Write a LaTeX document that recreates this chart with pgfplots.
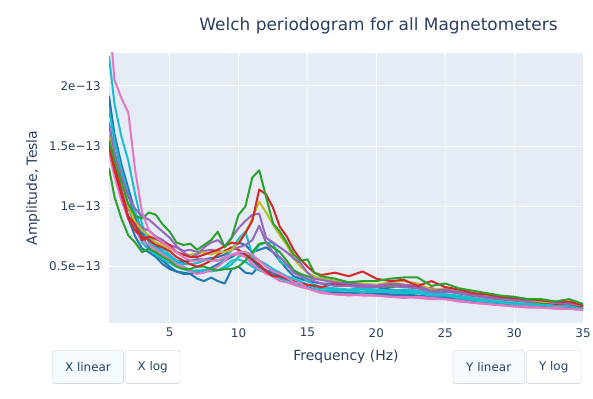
\documentclass[border=0pt]{standalone}
\usepackage{fontspec}
\setmainfont{DejaVu Sans}
\usepackage{pgfplots}
\pgfplotsset{compat=1.18}
\usepackage{pgfplotstable}
\definecolor{txt}{HTML}{2A3F5F}
\definecolor{bg}{HTML}{E5ECF6}
\definecolor{btnb}{HTML}{BEC8D9}
\definecolor{btnf}{HTML}{F4FAFF}
\definecolor{cB}{HTML}{1F77B4}
\definecolor{cG}{HTML}{2CA02C}
\definecolor{cR}{HTML}{D62728}
\definecolor{cP}{HTML}{9467BD}
\definecolor{cK}{HTML}{E377C2}
\definecolor{cY}{HTML}{BCBD22}
\definecolor{cC}{HTML}{17BECF}

\pgfplotstableread{
f s1 s2 s3 s4 s5 s6 s7 s8 s9 s10 s11 s12 s13 s14 s15
0.6 1.55 1.55 1.6 1.68 1.6 1.8 2.25 1.5 1.9 2.6 1.45 1.32 1.5 1.7 1.92
1.0 1.38 1.35 1.4 1.45 1.35 1.55 1.85 1.3 1.6 2.05 1.25 1.08 1.3 1.45 1.55
1.5 1.2 1.12 1.2 1.25 1.15 1.3 1.58 1.1 1.35 1.9 1.05 0.9 1.1 1.2 1.3
2.0 1.02 0.92 1.0 1.08 0.98 1.1 1.38 0.9 1.15 1.78 0.9 0.76 0.9 1.0 1.1
2.5 0.92 0.85 0.87 0.98 0.88 0.95 1.1 0.75 0.95 1.3 0.8 0.7 0.8 0.82 0.9
3.0 0.9 0.72 0.8 0.92 0.82 0.8 0.85 0.65 0.78 0.95 0.72 0.62 0.75 0.7 0.75
3.5 0.95 0.75 0.76 0.89 0.8 0.74 0.7 0.62 0.72 0.8 0.68 0.65 0.72 0.64 0.66
4.0 0.93 0.73 0.7 0.84 0.75 0.7 0.66 0.58 0.68 0.74 0.64 0.62 0.68 0.6 0.6
4.5 0.85 0.7 0.68 0.79 0.72 0.65 0.62 0.52 0.62 0.7 0.6 0.58 0.66 0.56 0.55
5.0 0.79 0.68 0.65 0.74 0.68 0.6 0.58 0.48 0.58 0.66 0.56 0.55 0.63 0.53 0.5
5.5 0.7 0.62 0.62 0.67 0.66 0.55 0.54 0.46 0.55 0.62 0.52 0.5 0.58 0.5 0.46
6.0 0.68 0.6 0.6 0.62 0.63 0.52 0.5 0.45 0.54 0.58 0.5 0.48 0.55 0.48 0.44
6.5 0.69 0.58 0.6 0.58 0.64 0.52 0.47 0.44 0.55 0.55 0.46 0.48 0.52 0.46 0.44
7.0 0.64 0.58 0.61 0.6 0.62 0.53 0.46 0.4 0.56 0.55 0.44 0.5 0.5 0.47 0.45
7.5 0.68 0.6 0.62 0.66 0.63 0.55 0.47 0.38 0.56 0.56 0.45 0.5 0.52 0.47 0.47
8.0 0.72 0.62 0.6 0.70 0.64 0.56 0.48 0.41 0.57 0.55 0.47 0.48 0.55 0.46 0.49
8.5 0.79 0.64 0.62 0.72 0.63 0.55 0.47 0.38 0.58 0.55 0.5 0.47 0.6 0.47 0.52
9.0 0.66 0.67 0.62 0.67 0.62 0.56 0.48 0.36 0.6 0.58 0.55 0.48 0.63 0.5 0.55
9.5 0.74 0.7 0.64 0.74 0.64 0.64 0.52 0.48 0.64 0.6 0.6 0.48 0.66 0.55 0.58
10.0 0.93 0.69 0.7 0.82 0.66 0.73 0.58 0.5 0.7 0.62 0.6 0.5 0.64 0.56 0.62
10.5 1.0 0.78 0.78 0.88 0.68 0.79 0.62 0.45 0.68 0.62 0.58 0.55 0.6 0.54 0.6
11.0 1.24 0.88 0.9 0.93 0.72 0.6 0.58 0.44 0.62 0.6 0.52 0.62 0.56 0.5 0.55
11.5 1.30 1.14 1.04 0.94 0.84 0.68 0.55 0.51 0.64 0.55 0.48 0.69 0.52 0.47 0.5
12.0 1.08 1.10 0.95 0.74 0.70 0.70 0.52 0.47 0.66 0.5 0.44 0.70 0.46 0.45 0.46
12.5 0.86 0.99 0.85 0.70 0.62 0.70 0.48 0.45 0.62 0.46 0.42 0.66 0.42 0.42 0.43
13.0 0.79 0.83 0.76 0.66 0.58 0.54 0.45 0.42 0.55 0.44 0.38 0.62 0.42 0.40 0.41
13.5 0.7 0.75 0.68 0.62 0.52 0.51 0.42 0.38 0.48 0.41 0.37 0.55 0.40 0.38 0.39
14.0 0.6 0.64 0.57 0.57 0.45 0.47 0.4 0.36 0.42 0.37 0.35 0.47 0.38 0.36 0.36
14.5 0.55 0.56 0.5 0.53 0.42 0.43 0.38 0.34 0.40 0.36 0.33 0.44 0.36 0.34 0.34
15.0 0.56 0.5 0.45 0.45 0.40 0.38 0.35 0.33 0.38 0.32 0.32 0.42 0.35 0.32 0.32
15.5 0.45 0.45 0.42 0.40 0.38 0.35 0.33 0.31 0.37 0.30 0.30 0.40 0.34 0.31 0.31
16.0 0.42 0.43 0.40 0.39 0.36 0.33 0.32 0.30 0.36 0.29 0.28 0.40 0.33 0.30 0.30
17 0.40 0.45 0.38 0.37 0.34 0.32 0.31 0.28 0.36 0.27 0.27 0.38 0.36 0.30 0.29
18 0.37 0.42 0.37 0.36 0.34 0.31 0.30 0.27 0.34 0.27 0.26 0.36 0.35 0.30 0.28
19 0.38 0.46 0.36 0.35 0.33 0.32 0.31 0.27 0.33 0.26 0.27 0.35 0.35 0.29 0.28
20 0.38 0.40 0.35 0.34 0.33 0.31 0.30 0.27 0.33 0.26 0.26 0.34 0.34 0.29 0.28
21 0.40 0.38 0.37 0.36 0.34 0.30 0.30 0.26 0.31 0.25 0.25 0.33 0.35 0.29 0.27
22 0.41 0.39 0.38 0.35 0.33 0.31 0.29 0.26 0.30 0.24 0.25 0.34 0.35 0.28 0.27
23 0.41 0.34 0.36 0.34 0.32 0.30 0.29 0.25 0.30 0.25 0.24 0.33 0.33 0.28 0.26
24 0.34 0.38 0.31 0.30 0.29 0.28 0.27 0.24 0.27 0.24 0.23 0.30 0.32 0.26 0.25
25 0.36 0.33 0.32 0.31 0.29 0.27 0.27 0.24 0.26 0.23 0.23 0.30 0.30 0.26 0.25
26 0.32 0.31 0.30 0.29 0.28 0.26 0.25 0.23 0.25 0.22 0.21 0.28 0.28 0.24 0.23
27 0.30 0.28 0.27 0.27 0.26 0.24 0.23 0.21 0.23 0.20 0.20 0.26 0.26 0.22 0.22
28 0.28 0.27 0.26 0.25 0.24 0.22 0.22 0.20 0.21 0.19 0.19 0.24 0.25 0.21 0.20
29 0.26 0.25 0.24 0.24 0.23 0.21 0.21 0.19 0.20 0.18 0.18 0.23 0.23 0.20 0.19
30 0.25 0.24 0.23 0.23 0.22 0.20 0.19 0.18 0.19 0.17 0.17 0.22 0.22 0.19 0.18
31 0.23 0.23 0.22 0.22 0.21 0.19 0.19 0.17 0.18 0.17 0.16 0.21 0.21 0.18 0.18
32 0.23 0.22 0.21 0.22 0.21 0.19 0.18 0.17 0.18 0.16 0.16 0.20 0.21 0.18 0.17
33 0.21 0.21 0.20 0.20 0.20 0.18 0.18 0.16 0.17 0.16 0.15 0.20 0.19 0.17 0.17
34 0.23 0.21 0.20 0.20 0.19 0.18 0.17 0.16 0.17 0.15 0.15 0.19 0.19 0.17 0.16
35 0.19 0.18 0.18 0.18 0.18 0.16 0.16 0.15 0.16 0.14 0.14 0.17 0.17 0.15 0.15
}\data

\begin{document}
\begin{tikzpicture}[x=1bp,y=1bp]
\useasboundingbox (0,0) rectangle (593,398);
\begin{axis}[
  at={(109bp,75bp)}, anchor=south west,
  scale only axis, width=474bp, height=270bp,
  xmin=0.6, xmax=35, ymin=0.032, ymax=2.274,
  axis background/.style={fill=bg},
  axis line style={draw=none},
  grid=major, grid style={white, line width=1bp},
  major tick length=0pt,
  xtick={5,10,15,20,25,30,35},
  ytick={0.5,1,1.5,2},
  yticklabels={0.5e−13,1e−13,1.5e−13,2e−13},
  /pgf/number format/assume math mode=true,
  ticklabel style={font=\fontsize{12}{14}\selectfont, text=txt},
  yticklabel style={inner sep=0pt, xshift=-8bp},
  xticklabel style={inner sep=0pt, yshift=-5bp},
  every axis plot/.append style={line width=2bp, line join=round, no markers},
]
\addplot[cB] table[x=f,y=s8]{\data};
\addplot[cB] table[x=f,y=s9]{\data};
\addplot[cB] table[x=f,y=s15]{\data};
\addplot[cC] table[x=f,y=s14]{\data};
\addplot[cC] table[x=f,y=s6]{\data};
\addplot[cC] table[x=f,y=s7]{\data};
\addplot[cK] table[x=f,y=s11]{\data};
\addplot[cG] table[x=f,y=s12]{\data};
\addplot[cR] table[x=f,y=s13]{\data};
\addplot[cP] table[x=f,y=s5]{\data};
\addplot[cY] table[x=f,y=s3]{\data};
\addplot[cP] table[x=f,y=s4]{\data};
\addplot[cR] table[x=f,y=s2]{\data};
\addplot[cG] table[x=f,y=s1]{\data};
\addplot[cK] table[x=f,y=s10]{\data};
\end{axis}
\node[text=txt, font=\fontsize{17}{20}\selectfont] at (378.5,372) {Welch periodogram for all Magnetometers};
\node[text=txt, font=\fontsize{14}{16}\selectfont, rotate=90] at (33,210) {Amplitude, Tesla};
\node[text=txt, font=\fontsize{14}{16}\selectfont] at (346,41) {Frequency (Hz)};
\begin{scope}[font=\fontsize{12}{14}\selectfont]
\draw[btnb, fill=btnf, rounded corners=2bp] (52.7,14.7) rectangle (123.3,47.3);
\node[text=txt] at (88,31) {X linear};
\draw[btnb, fill=white, rounded corners=2bp] (125.5,14.7) rectangle (180,47.3);
\node[text=txt] at (152.7,31) {X log};
\draw[btnb, fill=btnf, rounded corners=2bp] (453,14.7) rectangle (524.5,47.3);
\node[text=txt] at (488.7,31) {Y linear};
\draw[btnb, fill=white, rounded corners=2bp] (526.5,14.7) rectangle (581,47.3);
\node[text=txt] at (553.7,31) {Y log};
\end{scope}
\end{tikzpicture}
\end{document}
